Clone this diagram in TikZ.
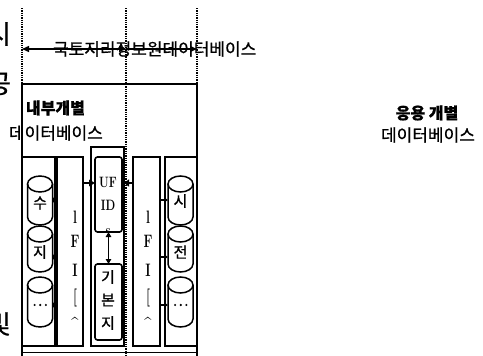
\documentclass[tikz,border=0pt]{standalone}
\usepackage{fontspec}
\usetikzlibrary{arrows.meta}
\newfontfamily\kr[FakeBold=0.8]{Noto Sans CJK KR}
\newcommand\dbcyl[4]{%
  \draw[cylline] (#1-#2,#4) -- (#1-#2,#3) arc[start angle=180,end angle=360,x radius=#2 pt,y radius=8pt] -- (#1+#2,#4);
  \draw[cylline] (#1,#4) ellipse[x radius=#2 pt,y radius=8pt];
}
\begin{document}
\begin{tikzpicture}[x=1pt,y=-1pt,
  every node/.style={inner sep=0pt,outer sep=0pt},
  dotln/.style={densely dotted,line width=1.3pt},
  colbox/.style={draw,line width=1.7pt,anchor=north west},
  cylline/.style={line width=1.5pt},
  inbox/.style={draw,line width=1.6pt,anchor=north west,rounded corners=2.5pt},
  krtxt/.style={font=\kr\fontsize{17}{17}\selectfont},
  krbold/.style={font=\kr\bfseries\fontsize{16}{16}\selectfont},
  krcut/.style={font=\kr\fontsize{26}{26}\selectfont,anchor=east},
  lbl/.style={font=\kr\fontsize{15}{15}\selectfont},
  letter/.style={font=\bfseries\fontsize{18}{18}\selectfont},
  uf/.style={font=\bfseries\fontsize{15}{15}\selectfont},
  bigtip/.style={-{Triangle[length=7pt,width=6pt]}},
  smalltip/.style={-{Triangle[length=4pt,width=5pt]},line width=1.2pt},
  dbl/.style={{Triangle[length=5pt,width=5.5pt]}-{Triangle[length=5pt,width=5.5pt]},line width=1.7pt}
]
\useasboundingbox (0,0) rectangle (483,356);
\clip (0,0) rectangle (483,356);

% text cut off at the left border, as in the reference
\node[krcut] (f1) at (11,34) {시};
\node[krcut] (f2) at (11,84) {공};
\node[krcut] (f3) at (11,324) {및};

% dotted separators
\coordinate (d1t) at (22,8);   \coordinate (d1b) at (22,84);
\coordinate (d2t) at (126,8);  \coordinate (d2b) at (126,356);
\coordinate (d3t) at (197,8);  \coordinate (d3b) at (197,84);
\draw[dotln] (d1t) -- (d1b);
\draw[dotln] (d2t) -- (d2b);
\draw[dotln] (d3t) -- (d3b);

% top label with arrows through it
\node[krtxt,anchor=west] (top) at (53,49) {국토지리정보원데이터베이스};
\coordinate (a1) at (22,49);
\coordinate (a2) at (126,49);
\coordinate (a3) at (197,49);
\draw[line width=1.4pt,{Triangle[length=7pt,width=6pt]}-{Triangle[length=7pt,width=6pt]}] (a1) -- (a2);
\draw[line width=1.4pt,bigtip] (a2) -- (a3);

% outer frame
\node[draw,line width=1.5pt,anchor=north west,minimum width=175pt,minimum height=290pt] (outer) at (22,84) {};
\coordinate (hl) at (22,352); \coordinate (hr) at (197,352);
\draw[line width=0.8pt] (hl) -- (hr);

\node[krbold,anchor=west] (inT1) at (26,108) {내부개별};
\node[krtxt,anchor=west] (inT2) at (9,133) {데이터베이스};

% right side text
\node[krbold] (apT1) at (427,113) {응용 개별};
\node[krtxt] (apT2) at (428,135) {데이터베이스};

% columns
\node[colbox,minimum width=33pt,minimum height=189pt] (C1) at (22,157) {};
\node[colbox,minimum width=26pt,minimum height=189pt] (L1) at (57,157) {};
\node[colbox,minimum width=33pt,minimum height=199pt] (M) at (91,147) {};
\node[colbox,minimum width=27pt,minimum height=189pt] (L2) at (133,157) {};
\node[colbox,minimum width=32pt,minimum height=189pt] (C2) at (165,157) {};

% inner boxes of the middle column
\node[inbox,minimum width=27pt,minimum height=75pt] (U) at (95,157) {};
\node[inbox,minimum width=27pt,minimum height=76pt] (B) at (95,264) {};
\node[uf] (uf1) at (108,182) {\scalebox{0.75}[1]{UF}};
\node[uf] (uf2) at (108,205) {\scalebox{0.75}[1]{ID}};
\begin{scope}
  \clip (95,157) rectangle (122,231);
  \node[uf] (uf3) at (108,232) {\scalebox{0.75}[1]{s}};
\end{scope}
\node[lbl] (b1) at (108,277) {기};
\node[lbl] (b2) at (108,300) {본};
\node[lbl] (b3) at (108,323) {지};
\draw[dbl] (U.south) -- (B.north);

% LFID letters
\foreach \t/\yy/\n in {l/217/1,F/241/2,I/270/3,[/298/4,\^{}/324/5}{
  \node[letter] (la\n) at (75,\yy) {\scalebox{0.7}[1]{\t}};
  \node[letter] (lb\n) at (148,\yy) {\scalebox{0.7}[1]{\t}};
}

% cylinders, left
\dbcyl{40}{12.5}{217}{184}
\dbcyl{40}{12.5}{264}{234}
\dbcyl{40}{12.5}{319}{285}
\node[lbl] (s1) at (40,203) {수};
\node[lbl] (s2) at (40,252) {지};
\node[lbl] (s3) at (40,305) {…};
% cylinders, right
\dbcyl{180.5}{12.5}{217}{184}
\dbcyl{180.5}{12.5}{264}{234}
\dbcyl{180.5}{12.5}{319}{285}
\node[lbl] (t1) at (180.5,201) {시};
\node[lbl] (t2) at (180.5,252) {전};
\node[lbl] (t3) at (180.5,305) {…};

% connectors
\coordinate (c1) at (52.5,200); \coordinate (c2) at (52.5,257); \coordinate (c3) at (52.5,305);
\draw[smalltip] (c1) -- (L1.west |- c1);
\draw[smalltip] (c2) -- (L1.west |- c2);
\draw[smalltip] (c3) -- (L1.west |- c3);
\coordinate (e1) at (160,200); \coordinate (e2) at (160,257); \coordinate (e3) at (160,305);
\coordinate (g1) at (168,200); \coordinate (g2) at (168,257); \coordinate (g3) at (168,305);
\draw[smalltip] (e1) -- (g1);
\draw[smalltip] (e2) -- (g2);
\draw[smalltip] (e3) -- (g3);
\coordinate (m1) at (83,183);
\draw[line width=1.6pt,-{Triangle[length=6pt,width=6.5pt]}] (m1) -- (U.west |- m1);
\coordinate (m2) at (133,183);
\draw[line width=2.8pt,-{Triangle[length=5pt,width=7pt]}] (m2) -- (M.east |- m2);
\end{tikzpicture}
\end{document}
